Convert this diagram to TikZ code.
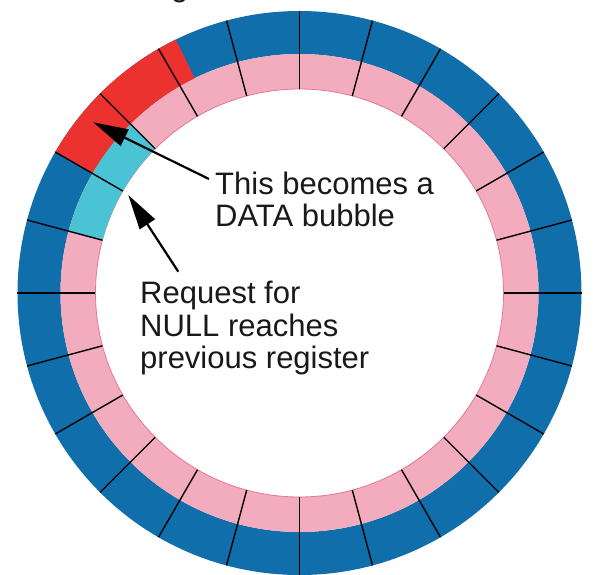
\documentclass[tikz,border=0pt]{standalone}
\usepackage{fontspec}
\setmainfont{Liberation Sans}
\usepackage{tikz}
\usetikzlibrary{arrows.meta}

\definecolor{ringblue}{RGB}{16,110,170}
\definecolor{ringpink}{RGB}{242,172,190}
\definecolor{datared}{RGB}{236,50,46}
\definecolor{nullcyan}{RGB}{74,196,212}

\begin{document}
\begin{tikzpicture}[
  x=1pt, y=1pt,
  blueband/.style={fill=ringblue, even odd rule},
  pinkband/.style={fill=ringpink, even odd rule},
  pinkedge/.style={draw=ringpink!70!purple, line width=0.8pt},
  datacell/.style={fill=datared},
  nullcell/.style={fill=nullcyan},
  divider/.style={draw=black, line width=1.4pt},
  pointer/.style={-{Triangle[length=35pt,width=18pt]}, line width=2.2pt, shorten >=0pt},
  caption/.style={inner sep=0pt, align=left, anchor=base west,
    font=\fontsize{31}{32.5}\selectfont},
  every node/.style={text=black!90}]

  \useasboundingbox (-299.5,-281) rectangle (293.5,293);

  % Radii of the two bands
  \def\rin{204}
  \def\rmid{239}
  \def\rout{282}

  % Cut-off line of text above the ring
  \node[caption] (above) at (-128.5,296.3) {g};

  % The ring: outer registers and inner bubbles
  \fill[blueband] (0,0) circle[radius=\rout] (0,0) circle[radius=\rmid];
  \fill[pinkband] (0,0) circle[radius=\rmid] (0,0) circle[radius=\rin];
  \draw[pinkedge] (0,0) circle[radius=\rin];

  % The two highlighted stages
  \fill[datacell] (116:\rmid) arc[start angle=116, end angle=150, radius=\rmid]
    -- (150:\rout) arc[start angle=150, end angle=116, radius=\rout] -- cycle;
  \fill[nullcell] (135:\rin) arc[start angle=135, end angle=165, radius=\rin]
    -- (165:\rmid) arc[start angle=165, end angle=135, radius=\rmid] -- cycle;

  % Dividers between the 24 stages
  \foreach \a in {0,15,...,345}
    \draw[divider] (\a:\rin) -- (\a:\rout);

  % Labels (base is the last line)
  \node[caption] (becomes) at (-84.5,66.3) {This becomes a\\DATA bubble};
  \node[caption] (request) at (-159.5,-75.5) {Request for\\NULL reaches\\previous register};

  % Arrow ends
  \coordinate (redcell) at (-206.2,170.7);
  \coordinate (becomestail) at (-90.5,114);
  \coordinate (cyancell) at (-171.2,98);
  \coordinate (requesttail) at (-121.2,21.3);

  \draw[pointer] (becomestail) -- (redcell);
  \draw[pointer] (requesttail) -- (cyancell);
\end{tikzpicture}
\end{document}
